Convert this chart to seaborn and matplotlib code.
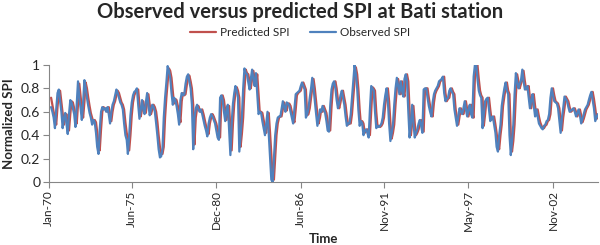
import numpy as np
import pandas as pd
import matplotlib
matplotlib.use("Agg")
import matplotlib.pyplot as plt
import matplotlib.dates as mdates
from matplotlib.ticker import FuncFormatter
import seaborn as sns

# monthly normalized SPI, Mar-1970 .. Oct-2005 (one row per year)
observed_spi = [
    0.64, 0.60, 0.55, 0.46, 0.62, 0.76, 0.79, 0.69, 0.60, 0.46,
    0.55, 0.59, 0.50, 0.41, 0.58, 0.70, 0.68, 0.63, 0.58, 0.47, 0.66, 0.86,
    0.72, 0.63, 0.53, 0.68, 0.87, 0.80, 0.72, 0.65, 0.59, 0.55, 0.49, 0.53,
    0.51, 0.42, 0.30, 0.24, 0.45, 0.60, 0.64, 0.62, 0.63, 0.60, 0.64, 0.58,
    0.50, 0.60, 0.66, 0.69, 0.74, 0.79, 0.76, 0.72, 0.68, 0.66, 0.62, 0.50,
    0.40, 0.36, 0.24, 0.40, 0.57, 0.68, 0.74, 0.77, 0.78, 0.80, 0.66, 0.54,
    0.62, 0.70, 0.62, 0.58, 0.68, 0.76, 0.66, 0.57, 0.62, 0.66, 0.64, 0.60,
    0.50, 0.39, 0.28, 0.21, 0.22, 0.29, 0.55, 0.72, 0.85, 0.99, 0.95, 0.89,
    0.76, 0.66, 0.72, 0.70, 0.65, 0.58, 0.49, 0.70, 0.76, 0.74, 0.75, 0.84,
    0.90, 0.92, 0.86, 0.80, 0.66, 0.28, 0.55, 0.63, 0.66, 0.62, 0.60, 0.62,
    0.58, 0.53, 0.48, 0.44, 0.39, 0.50, 0.55, 0.58, 0.56, 0.53, 0.50, 0.44,
    0.38, 0.36, 0.72, 0.74, 0.70, 0.60, 0.52, 0.62, 0.66, 0.45, 0.23, 0.50,
    0.67, 0.76, 0.82, 0.78, 0.72, 0.26, 0.40, 0.55, 0.80, 0.97, 0.93, 0.92,
    0.85, 0.79, 0.88, 0.96, 0.88, 0.82, 0.93, 0.75, 0.58, 0.60, 0.59, 0.52,
    0.46, 0.40, 0.50, 0.60, 0.40, 0.21, 0.02, 0.00, 0.20, 0.40, 0.50, 0.55,
    0.56, 0.56, 0.62, 0.69, 0.64, 0.60, 0.68, 0.67, 0.65, 0.60, 0.55, 0.50,
    0.62, 0.75, 0.76, 0.77, 0.78, 0.82, 0.85, 0.82, 0.79, 0.55, 0.58, 0.63,
    0.72, 0.80, 0.89, 0.80, 0.69, 0.58, 0.48, 0.55, 0.62, 0.60, 0.65, 0.62,
    0.59, 0.52, 0.44, 0.43, 0.65, 0.79, 0.84, 0.86, 0.80, 0.70, 0.63, 0.68,
    0.74, 0.78, 0.72, 0.66, 0.56, 0.48, 0.50, 0.50, 0.58, 0.72, 0.86, 1.00,
    0.92, 0.80, 0.62, 0.48, 0.52, 0.50, 0.40, 0.44, 0.45, 0.42, 0.38, 0.62,
    0.82, 0.80, 0.78, 0.60, 0.46, 0.48, 0.47, 0.48, 0.50, 0.55, 0.66, 0.74,
    0.80, 0.69, 0.50, 0.35, 0.42, 0.49, 0.66, 0.80, 0.89, 0.82, 0.75, 0.86,
    0.78, 0.73, 0.88, 0.92, 0.86, 0.60, 0.38, 0.50, 0.66, 0.50, 0.38, 0.42,
    0.45, 0.50, 0.53, 0.48, 0.42, 0.79, 0.80, 0.80, 0.72, 0.65, 0.60, 0.56,
    0.68, 0.75, 0.78, 0.80, 0.82, 0.86, 0.87, 0.88, 0.90, 0.76, 0.69, 0.71,
    0.72, 0.78, 0.80, 0.77, 0.75, 0.62, 0.55, 0.48, 0.56, 0.63, 0.60, 0.58,
    0.63, 0.69, 0.62, 0.56, 0.62, 0.66, 0.58, 0.55, 0.90, 1.00, 1.00, 0.88,
    0.78, 0.74, 0.72, 0.46, 0.58, 0.69, 0.71, 0.72, 0.62, 0.52, 0.55, 0.56,
    0.49, 0.42, 0.30, 0.26, 0.40, 0.49, 0.65, 0.73, 0.80, 0.85, 0.78, 0.75,
    0.40, 0.23, 0.35, 0.49, 0.75, 0.93, 0.86, 0.80, 0.84, 0.87, 0.96, 0.86,
    0.79, 0.80, 0.82, 0.72, 0.63, 0.70, 0.75, 0.65, 0.56, 0.62, 0.56, 0.50,
    0.48, 0.46, 0.45, 0.48, 0.49, 0.52, 0.53, 0.58, 0.72, 0.80, 0.74, 0.69,
    0.68, 0.67, 0.63, 0.52, 0.42, 0.55, 0.63, 0.73, 0.71, 0.69, 0.64, 0.60,
    0.61, 0.62, 0.63, 0.60, 0.56, 0.59, 0.62, 0.57, 0.50, 0.54, 0.58, 0.62,
    0.64, 0.66, 0.70, 0.74, 0.77, 0.70, 0.63, 0.52, 0.55, 0.58,
]

predicted_spi = [
    0.72, 0.66, 0.60, 0.55, 0.49, 0.64, 0.76, 0.78, 0.68, 0.58,
    0.49, 0.55, 0.58, 0.51, 0.44, 0.58, 0.69, 0.68, 0.63, 0.58, 0.50, 0.66,
    0.84, 0.73, 0.63, 0.55, 0.68, 0.85, 0.80, 0.72, 0.65, 0.59, 0.55, 0.51,
    0.53, 0.51, 0.43, 0.32, 0.27, 0.45, 0.60, 0.64, 0.62, 0.63, 0.60, 0.64,
    0.58, 0.52, 0.60, 0.66, 0.69, 0.74, 0.78, 0.76, 0.72, 0.68, 0.66, 0.62,
    0.51, 0.42, 0.37, 0.27, 0.40, 0.57, 0.68, 0.74, 0.77, 0.78, 0.79, 0.66,
    0.56, 0.62, 0.69, 0.62, 0.59, 0.68, 0.75, 0.66, 0.58, 0.62, 0.66, 0.64,
    0.60, 0.51, 0.40, 0.30, 0.24, 0.24, 0.30, 0.55, 0.72, 0.85, 0.97, 0.95,
    0.89, 0.77, 0.67, 0.71, 0.70, 0.65, 0.59, 0.51, 0.69, 0.76, 0.74, 0.75,
    0.83, 0.89, 0.91, 0.86, 0.80, 0.66, 0.32, 0.55, 0.63, 0.65, 0.62, 0.60,
    0.62, 0.58, 0.53, 0.48, 0.44, 0.41, 0.50, 0.55, 0.58, 0.56, 0.53, 0.50,
    0.45, 0.40, 0.38, 0.70, 0.74, 0.70, 0.61, 0.53, 0.62, 0.65, 0.46, 0.27,
    0.50, 0.67, 0.76, 0.81, 0.78, 0.72, 0.30, 0.41, 0.55, 0.79, 0.96, 0.93,
    0.92, 0.85, 0.80, 0.88, 0.95, 0.88, 0.82, 0.92, 0.75, 0.59, 0.60, 0.59,
    0.53, 0.47, 0.42, 0.50, 0.59, 0.42, 0.24, 0.05, 0.02, 0.21, 0.40, 0.50,
    0.55, 0.56, 0.56, 0.62, 0.68, 0.64, 0.61, 0.67, 0.67, 0.65, 0.60, 0.55,
    0.51, 0.62, 0.74, 0.76, 0.77, 0.78, 0.82, 0.85, 0.82, 0.79, 0.57, 0.58,
    0.63, 0.72, 0.80, 0.88, 0.80, 0.69, 0.58, 0.50, 0.55, 0.62, 0.60, 0.65,
    0.62, 0.59, 0.52, 0.45, 0.44, 0.64, 0.79, 0.84, 0.86, 0.80, 0.70, 0.63,
    0.68, 0.74, 0.78, 0.72, 0.66, 0.56, 0.49, 0.50, 0.50, 0.58, 0.72, 0.86,
    0.98, 0.92, 0.80, 0.62, 0.49, 0.52, 0.50, 0.42, 0.44, 0.45, 0.42, 0.40,
    0.61, 0.81, 0.80, 0.78, 0.60, 0.47, 0.48, 0.47, 0.48, 0.50, 0.55, 0.66,
    0.74, 0.80, 0.69, 0.51, 0.37, 0.42, 0.49, 0.66, 0.80, 0.88, 0.82, 0.75,
    0.86, 0.78, 0.73, 0.87, 0.92, 0.86, 0.61, 0.40, 0.50, 0.65, 0.50, 0.40,
    0.42, 0.45, 0.50, 0.53, 0.48, 0.43, 0.78, 0.80, 0.80, 0.72, 0.65, 0.60,
    0.56, 0.68, 0.75, 0.78, 0.80, 0.82, 0.86, 0.87, 0.88, 0.90, 0.76, 0.69,
    0.71, 0.72, 0.78, 0.80, 0.77, 0.75, 0.62, 0.55, 0.49, 0.56, 0.63, 0.60,
    0.58, 0.63, 0.69, 0.62, 0.56, 0.62, 0.66, 0.58, 0.55, 0.89, 0.99, 1.00,
    0.88, 0.78, 0.74, 0.72, 0.48, 0.58, 0.69, 0.71, 0.72, 0.62, 0.53, 0.55,
    0.56, 0.49, 0.42, 0.32, 0.28, 0.40, 0.49, 0.65, 0.73, 0.80, 0.85, 0.78,
    0.75, 0.42, 0.26, 0.35, 0.49, 0.74, 0.92, 0.86, 0.80, 0.84, 0.87, 0.95,
    0.86, 0.79, 0.80, 0.82, 0.72, 0.63, 0.70, 0.75, 0.65, 0.57, 0.62, 0.56,
    0.51, 0.48, 0.46, 0.46, 0.48, 0.49, 0.52, 0.53, 0.58, 0.72, 0.80, 0.74,
    0.69, 0.68, 0.67, 0.63, 0.52, 0.44, 0.55, 0.63, 0.73, 0.71, 0.69, 0.64,
    0.60, 0.61, 0.62, 0.63, 0.60, 0.56, 0.59, 0.62, 0.57, 0.51, 0.54, 0.58,
    0.62, 0.64, 0.66, 0.70, 0.74, 0.77, 0.71, 0.63, 0.54, 0.55,
]

tick_dates = ["1970-01-01", "1975-06-01", "1980-12-01", "1986-06-01",
              "1991-11-01", "1997-05-01", "2002-11-01"]
y_ticks = [0, 0.2, 0.4, 0.6, 0.8, 1]

months = pd.date_range("1970-03-01", periods=len(observed_spi), freq="MS")
df = pd.DataFrame({"Time": months,
                   "Predicted SPI": predicted_spi,
                   "Observed SPI": observed_spi})

sns.set_style("white")
plt.rcParams["font.family"] = ["Lato", "DejaVu Sans"]

fig = plt.figure(figsize=(6, 2.45), dpi=100)
ax = fig.add_axes([0.081, 0.257, 0.916, 0.478])

grey = "#868686"
sns.lineplot(data=df, x="Time", y="Predicted SPI", color="#C0504D",
             linewidth=1.6, label="Predicted SPI", ax=ax, legend=False)
sns.lineplot(data=df, x="Time", y="Observed SPI", color="#4F81BD",
             linewidth=1.6, label="Observed SPI", ax=ax, legend=False)

ax.set_ylim(0, 1)
ax.set_xlim(pd.Timestamp("1970-01-01"), pd.Timestamp("2005-10-10"))
ax.set_yticks(y_ticks)
ax.yaxis.set_major_formatter(FuncFormatter(lambda v, p: f"{v:g}"))
ax.set_xticks(pd.to_datetime(tick_dates))
ax.xaxis.set_major_formatter(mdates.DateFormatter("%b-%y"))
plt.setp(ax.get_xticklabels(), rotation=90)

ax.tick_params(axis="y", labelsize=10, length=4, color=grey, width=0.8,
               left=True, pad=2)
ax.tick_params(axis="x", labelsize=8.5, length=4, color=grey, width=0.8,
               bottom=True, pad=2)

for s in ["top", "right"]:
    ax.spines[s].set_visible(False)
for s in ["left", "bottom"]:
    ax.spines[s].set_color(grey)
    ax.spines[s].set_linewidth(0.8)

ax.set_ylabel("Normalized SPI", fontsize=9.5, fontweight="bold", labelpad=4)
ax.set_xlabel("Time", fontsize=9.5, fontweight="bold", labelpad=1)

fig.suptitle("Observed versus predicted SPI at Bati station",
             fontsize=14.5, fontweight="bold", x=0.5, y=0.99)
handles, labels = ax.get_legend_handles_labels()
fig.legend(handles, labels, loc="center", bbox_to_anchor=(0.5, 0.868),
           ncol=2, frameon=False, fontsize=8.5, handlelength=2.2,
           handletextpad=0.3, columnspacing=1.8)

fig.savefig("out.png", dpi=100)
